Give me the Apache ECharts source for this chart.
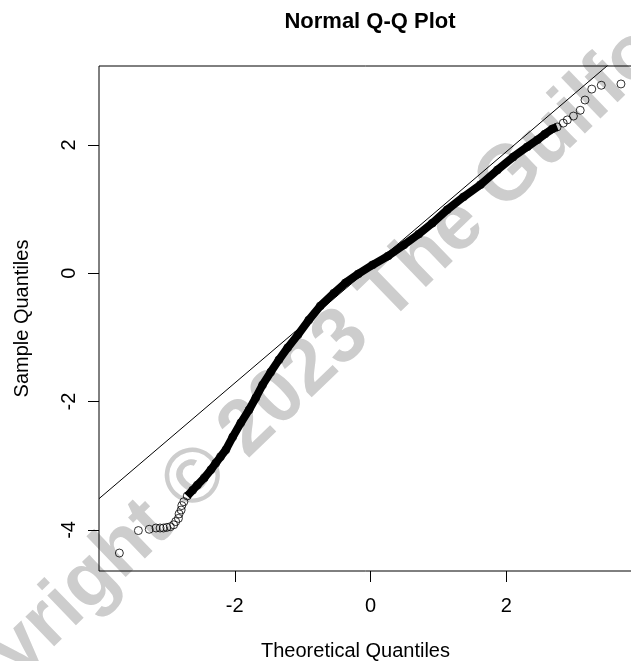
<!DOCTYPE html>
<html>
<head>
<meta charset="utf-8">
<script src="https://cdn.jsdelivr.net/npm/echarts@6/dist/echarts.min.js"></script>
<style>
html,body{margin:0;padding:0;background:#fff;}
#chart{width:631px;height:661px;}
</style>
</head>
<body>
<div id="chart"></div>
<script>
// Theoretical quantiles (x) and sample quantiles (y)
const lowerTailX = [-3.70,-3.42,-3.26,-3.16,-3.10,-3.05,-3.00,-2.95,-2.90,-2.87,-2.83,-2.82,-2.79,-2.78,-2.75];
const lowerTailY = [-4.36,-4.01,-3.99,-3.97,-3.97,-3.97,-3.96,-3.95,-3.92,-3.87,-3.82,-3.75,-3.69,-3.62,-3.56];
const bandX = [-2.70,-2.62,-2.55,-2.45,-2.35,-2.28,-2.21,-2.13,-2.03,-1.91,-1.79,-1.69,-1.59,-1.47,-1.35,-1.22,-1.07,-0.91,-0.74,-0.54,-0.37,-0.18,0.03,0.26,0.49,0.71,0.91,1.13,1.37,1.62,1.87,2.10,2.31,2.46,2.57,2.68,2.75];
const bandY = [-3.47,-3.38,-3.30,-3.19,-3.06,-2.96,-2.86,-2.75,-2.55,-2.33,-2.13,-1.94,-1.74,-1.54,-1.35,-1.16,-0.96,-0.73,-0.51,-0.31,-0.15,-0.01,0.13,0.27,0.44,0.61,0.78,0.99,1.19,1.38,1.61,1.81,1.97,2.08,2.17,2.25,2.28];
const upperTailX = [2.84,2.90,2.99,3.09,3.16,3.26,3.40,3.69];
const upperTailY = [2.34,2.39,2.45,2.54,2.70,2.87,2.93,2.95];
// reference line (qqline) end points
const lineX = [-4, 4];
const lineY = [-3.513, 3.695];
const xTicks = [-2, 0, 2];
const yTicks = [-4, -2, 0, 2];

const zip = (a, b) => a.map((v, i) => [v, b[i]]);
const allPts = zip(lowerTailX, lowerTailY).concat(zip(bandX, bandY), zip(upperTailX, upperTailY));

const chart = echarts.init(document.getElementById('chart'), null, {renderer: 'canvas'});
const font = 'Liberation Sans, Arial, sans-serif';
chart.setOption({
  animation: false,
  backgroundColor: '#fff',
  title: {
    text: 'Normal Q-Q Plot',
    left: 365, top: 6, textAlign: 'center',
    textStyle: {fontFamily: font, fontWeight: 'bold', fontSize: 22, color: '#000'}
  },
  graphic: [{
    type: 'text', z: -10, silent: true,
    x: -78, y: 798, rotation: 44 * Math.PI / 180,
    style: {text: 'Copyright © 2023 The Guilford', font: 'bold 78px ' + font, fill: '#cdcdcd', textVerticalAlign: 'bottom'}
  }],
  grid: {left: 99, top: 66, right: -11, bottom: 90, show: true, borderColor: '#000', borderWidth: 1,
         backgroundColor: 'transparent', containLabel: false, outerBoundsMode: 'none'},
  xAxis: {
    type: 'value', min: -4, max: 4,
    name: 'Theoretical Quantiles', nameLocation: 'middle', nameGap: 70,
    nameTextStyle: {fontFamily: font, fontSize: 20, color: '#000', padding: [0, 30, 0, 0]},
    axisLine: {show: false, onZero: false},
    splitLine: {show: false},
    axisTick: {show: true, inside: false, length: 11, customValues: xTicks, lineStyle: {color: '#000'}},
    axisLabel: {customValues: xTicks, margin: 25, fontFamily: font, fontSize: 20, color: '#000'}
  },
  yAxis: {
    type: 'value', min: -4.64, max: 3.23,
    name: 'Sample Quantiles', nameLocation: 'middle', nameGap: 67,
    nameTextStyle: {fontFamily: font, fontSize: 20, color: '#000'},
    axisLine: {show: false, onZero: false},
    splitLine: {show: false},
    axisTick: {show: true, inside: false, length: 11, customValues: yTicks, lineStyle: {color: '#000'}},
    axisLabel: {customValues: yTicks, rotate: 90, margin: 20, fontFamily: font, fontSize: 20, color: '#000'}
  },
  series: [
    {
      type: 'line', data: zip(lineX, lineY), showSymbol: false, clip: true,
      lineStyle: {color: '#000', width: 1}, z: 3
    },
    {
      type: 'line', data: zip(bandX, bandY), showSymbol: false, clip: true,
      lineStyle: {color: '#000', width: 8}, z: 4
    },
    {
      type: 'scatter', data: allPts, symbol: 'circle', symbolSize: 8,
      itemStyle: {color: 'transparent', borderColor: '#000', borderWidth: 1}, z: 5
    }
  ]
});
</script>
</body>
</html>
